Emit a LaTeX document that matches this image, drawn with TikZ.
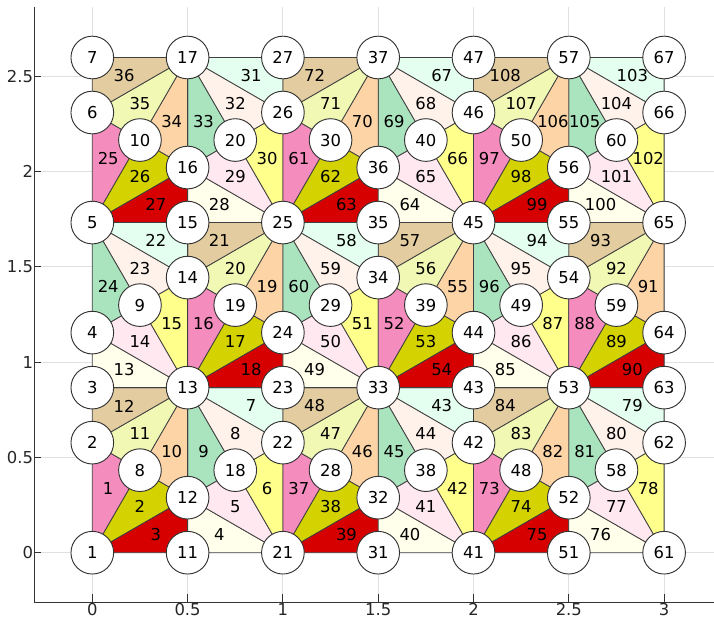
\documentclass[tikz,border=0pt]{standalone}
\usepackage{fontspec}
\setmainfont{DejaVu Sans}
\definecolor{sc0}{HTML}{D60000}
\definecolor{sc1}{HTML}{D4D200}
\definecolor{sc2}{HTML}{F58CBE}
\definecolor{sc3}{HTML}{FFFF8C}
\definecolor{sc4}{HTML}{FFE8F0}
\definecolor{sc5}{HTML}{FFFFEB}
\definecolor{sc6}{HTML}{E2CCA0}
\definecolor{sc7}{HTML}{F0F8B4}
\definecolor{sc8}{HTML}{FCD4A5}
\definecolor{sc9}{HTML}{AAE4BE}
\definecolor{sc10}{HTML}{FFF2EB}
\definecolor{sc11}{HTML}{E4FFF0}
\begin{document}
\begin{tikzpicture}[x=142.95pt,y=142.95pt,
  elem/.style={draw=black!75, line width=0.6pt, line join=round},
  elabel/.style={font=\fontsize{12.3}{14}\selectfont, inner sep=0pt},
  mnode/.style={circle, draw=black!80, line width=0.7pt, fill=white, minimum size=32pt, inner sep=0pt, font=\fontsize{12.3}{14}\selectfont},
  gridline/.style={draw=black!12, line width=0.75pt},
  axisline/.style={draw=black!80, line width=0.75pt},
  ticklabel/.style={font=\fontsize{12.3}{14}\selectfont, inner sep=0pt, text=black!85}]
\useasboundingbox (-0.4843,-0.3426) rectangle (3.2618,2.8998);
\def\h{0.8660254}
% grid
\foreach \gx in {0,0.5,...,3.01}{
  \draw[gridline] (\gx,-0.2602) -- (\gx,2.8646);
}
\foreach \gy in {0,0.5,...,2.51}{
  \draw[gridline] (-0.3033,\gy) -- (3.2618,\gy);
}
% axes
\draw[axisline] (-0.3033,2.8646) -- (-0.3033,-0.2602) -- (3.2618,-0.2602);
\foreach \gx/\t in {0/0,0.5/0.5,1/1,1.5/1.5,2/2,2.5/2.5,3/3}{
  \draw[axisline] (\gx,-0.2602) -- (\gx,-0.2182);
  \node[ticklabel, anchor=base] (bx\t) at (\gx,-0.3305) {\t};
}
\foreach \gy/\t in {0/0,0.5/0.5,1/1,1.5/1.5,2/2,2.5/2.5}{
  \draw[axisline] (-0.3033,\gy) -- (-0.2666,\gy);
  \node[ticklabel, anchor=base east] (ly\t) at (-0.3096,\gy-0.0315) {\t};
}
% mesh node positions
\foreach \m in {0,...,3}{
  \foreach \i/\f in {1/0,2/0.6666667,3/1,4/1.3333333,5/2,6/2.6666667,7/3}{
    \pgfmathtruncatemacro{\N}{20*\m+\i}
    \coordinate (p\N) at (\m,\f*\h);
  }
}
\foreach \m in {0,1,2}{
  \foreach \i/\f in {11/0,12/0.3333333,13/1,14/1.6666667,15/2,16/2.3333333,17/3}{
    \pgfmathtruncatemacro{\N}{20*\m+\i}
    \coordinate (p\N) at (\m+0.5,\f*\h);
  }
  \foreach \i/\f in {8/0.5,9/1.5,10/2.5}{
    \pgfmathtruncatemacro{\N}{20*\m+\i}
    \coordinate (p\N) at (\m+0.25,\f*\h);
  }
  \foreach \i/\f in {18/0.5,19/1.5,20/2.5}{
    \pgfmathtruncatemacro{\N}{20*\m+\i}
    \coordinate (p\N) at (\m+0.75,\f*\h);
  }
}
% elements
\foreach \k in {0,1,2}{
  \foreach \e/\a/\b/\c/\s in {1/1/8/2/2, 2/1/12/8/1, 3/1/11/12/0, 4/11/21/12/5, 5/21/18/12/4, 6/21/22/18/3,
    7/13/23/22/11, 8/13/22/18/10, 9/13/18/12/9, 10/13/12/8/8, 11/13/8/2/7, 12/13/2/3/6,
    13/3/13/4/5, 14/4/13/9/4, 15/9/13/14/3, 16/13/19/14/2, 17/13/24/19/1, 18/13/23/24/0,
    19/24/25/19/8, 20/19/25/14/7, 21/14/25/15/6, 22/15/5/14/11, 23/14/5/9/10, 24/9/5/4/9,
    25/5/10/6/2, 26/5/16/10/1, 27/5/15/16/0, 28/15/25/16/5, 29/25/20/16/4, 30/25/26/20/3,
    31/17/27/26/11, 32/17/26/20/10, 33/17/20/16/9, 34/17/16/10/8, 35/17/10/6/7, 36/17/6/7/6}{
    \pgfmathtruncatemacro{\A}{\a+20*\k}
    \pgfmathtruncatemacro{\B}{\b+20*\k}
    \pgfmathtruncatemacro{\C}{\c+20*\k}
    \pgfmathtruncatemacro{\E}{\e+36*\k}
    \filldraw[elem, fill=sc\s] (p\A) -- (p\B) -- (p\C) -- cycle;
    \node[elabel] (e\E) at (barycentric cs:p\A=1,p\B=1,p\C=1) {\E};
  }
}
% mesh nodes
\foreach \N in {1,...,67}{
  \node[mnode] (n\N) at (p\N) {\N};
}
\end{tikzpicture}
\end{document}
